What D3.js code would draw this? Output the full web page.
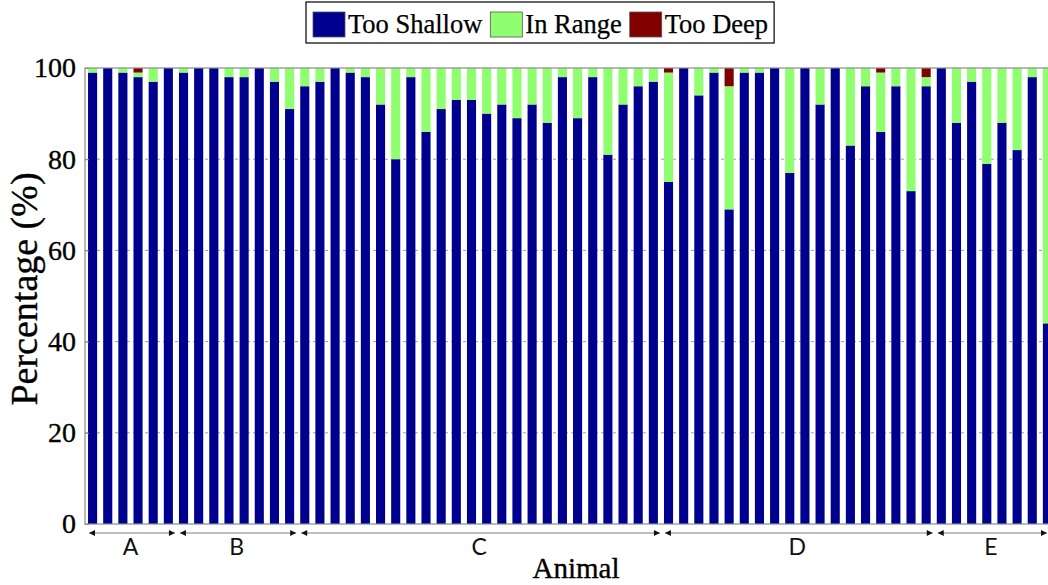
<!DOCTYPE html>
<html>
<head>
<meta charset="utf-8">
<script src="https://cdn.jsdelivr.net/npm/d3@7"></script>
<style>
  html, body { margin: 0; padding: 0; background: #fff; }
  svg { display: block; }
  .serif { font-family: 'Liberation Serif', 'Times New Roman', serif; stroke: #000; stroke-width: 0.35px; fill: #000; }
</style>
</head>
<body>
<svg id="chart" width="1048" height="585"></svg>
<script>
// Per-animal percentages of depth readings, in animal order
const animals = d3.range(1, 65).map(String);

const tooShallow = [
  99, 100, 99, 98, 97, 100,
  99, 100, 100, 98, 98, 100, 97, 91,
  96, 97, 100, 99, 98, 92, 80, 98, 86, 91, 93, 93, 90, 92, 89, 92, 88, 98, 89, 98, 81, 92, 96, 97,
  75, 100, 94, 99, 69, 99, 99, 100, 77, 100, 92, 100, 83, 96, 86, 96, 73, 96,
  100, 88, 97, 79, 88, 82, 98, 44
];
const inRange = [
  1, 0, 1, 1, 3, 0,
  1, 0, 0, 2, 2, 0, 3, 9,
  4, 3, 0, 1, 2, 8, 20, 2, 14, 9, 7, 7, 10, 8, 11, 8, 12, 2, 11, 2, 19, 8, 4, 3,
  24, 0, 6, 1, 27, 1, 1, 0, 23, 0, 8, 0, 17, 4, 13, 4, 27, 2,
  0, 12, 3, 21, 12, 18, 2, 56
];
const tooDeep = [
  0, 0, 0, 1, 0, 0,
  0, 0, 0, 0, 0, 0, 0, 0,
  0, 0, 0, 0, 0, 0, 0, 0, 0, 0, 0, 0, 0, 0, 0, 0, 0, 0, 0, 0, 0, 0, 0, 0,
  1, 0, 0, 0, 4, 0, 0, 0, 0, 0, 0, 0, 0, 0, 1, 0, 0, 2,
  0, 0, 0, 0, 0, 0, 0, 0
];

// Animal groups along the x axis and how many animals each holds
const groupNames = ["A", "B", "C", "D", "E"];
const groupSizes = [6, 8, 24, 18, 8];

const seriesNames = ["Too Shallow", "In Range", "Too Deep"];
const seriesColors = ["#00008f", "#8fff70", "#800000"];
const yTicks = [0, 20, 40, 60, 80, 100];

const rows = animals.map((a, i) => ({
  animal: a,
  "Too Shallow": tooShallow[i],
  "In Range": inRange[i],
  "Too Deep": tooDeep[i]
}));

const svg = d3.select("#chart");
const margin = { left: 85, top: 68, bottom: 524 };
const plotRight = 1055;

const x = d3.scaleBand()
  .domain(animals)
  .range([margin.left, plotRight])
  .paddingInner(0.4)
  .paddingOuter(0.2);

const y = d3.scaleLinear().domain([0, 100]).range([margin.bottom, margin.top]);

const color = d3.scaleOrdinal().domain(seriesNames).range(seriesColors);

// Dashed horizontal grid
svg.append("g")
  .selectAll("line")
  .data(yTicks.filter(t => t > 0 && t < 100))
  .join("line")
  .attr("x1", margin.left).attr("x2", plotRight)
  .attr("y1", d => y(d)).attr("y2", d => y(d))
  .attr("stroke", "#a0a0a0")
  .attr("stroke-width", 1)
  .attr("stroke-dasharray", "3,3");

// Stacked bars
const stacked = d3.stack().keys(seriesNames)(rows);
svg.append("g")
  .selectAll("g")
  .data(stacked)
  .join("g")
  .attr("fill", d => color(d.key))
  .selectAll("rect")
  .data(d => d)
  .join("rect")
  .attr("x", d => x(d.data.animal))
  .attr("width", x.bandwidth())
  .attr("y", d => y(d[1]))
  .attr("height", d => Math.max(0, y(d[0]) - y(d[1])));

// Plot frame
svg.append("rect")
  .attr("x", margin.left).attr("y", margin.top)
  .attr("width", plotRight - margin.left)
  .attr("height", margin.bottom - margin.top)
  .attr("fill", "none")
  .attr("stroke", "#8a8a8a")
  .attr("stroke-width", 1.2);

// Y axis
const yAxis = svg.append("g")
  .attr("transform", `translate(${margin.left},0)`)
  .call(d3.axisLeft(y).tickValues(yTicks).tickSize(-4).tickPadding(9));
yAxis.select(".domain").remove();
yAxis.selectAll(".tick line").attr("stroke", "#8a8a8a");
yAxis.selectAll(".tick text")
  .attr("class", "serif")
  .style("font-size", "28px");

svg.append("text")
  .attr("class", "serif")
  .attr("transform", `translate(37,289) rotate(-90)`)
  .attr("text-anchor", "middle")
  .style("font-size", "38px")
  .text("Percentage (%)");

// Group spans with arrowheads under the bars
const arrowY = 533;
const step = x.step();
let start = 0;
const spans = groupNames.map((g, i) => {
  const s = { name: g, from: start, to: start + groupSizes[i] };
  start += groupSizes[i];
  return s;
});
const edge = i => x.range()[0] + i * step;

const groupG = svg.append("g");
spans.forEach(s => {
  const x0 = edge(s.from) + 4;
  const x1 = Math.min(edge(s.to), 1048) - 1;
  groupG.append("line")
    .attr("x1", x0).attr("x2", x1)
    .attr("y1", arrowY).attr("y2", arrowY)
    .attr("stroke", "#a8a8a8").attr("stroke-width", 1.6);
  groupG.append("path")
    .attr("d", `M${x0},${arrowY} l6,-3 l0,6 z`)
    .attr("fill", "#111");
  groupG.append("path")
    .attr("d", `M${x1},${arrowY} l-6,-3 l0,6 z`)
    .attr("fill", "#111");
  groupG.append("text")
    .attr("x", (edge(s.from) + Math.min(edge(s.to), 1048)) / 2)
    .attr("y", 555)
    .attr("text-anchor", "middle")
    .style("font-family", "Lato, 'Open Sans', sans-serif")
    .style("font-size", "23px")
    .attr("fill", "#111")
    .text(s.name);
});

svg.append("text")
  .attr("class", "serif")
  .attr("x", 576).attr("y", 578)
  .attr("text-anchor", "middle")
  .style("font-size", "29px")
  .text("Animal");

// Legend
const legend = svg.append("g");
const legendBox = legend.append("rect")
  .attr("fill", "#fff").attr("stroke", "#000").attr("stroke-width", 1.2);
let lx = 313;
seriesNames.forEach((name, i) => {
  legend.append("rect")
    .attr("x", lx).attr("y", 12)
    .attr("width", 32).attr("height", 25)
    .attr("fill", seriesColors[i])
    .attr("stroke", "#555").attr("stroke-width", 0.8);
  const t = legend.append("text")
    .attr("class", "serif")
    .attr("x", lx + 35).attr("y", 33)
    .style("font-size", "26.5px")
    .style("stroke-width", "0.25px")
    .text(name);
  lx += 35 + t.node().getComputedTextLength() + 8;
});
legendBox.attr("x", 306).attr("y", 2)
  .attr("width", lx - 306 - 2).attr("height", 41);
</script>
</body>
</html>
